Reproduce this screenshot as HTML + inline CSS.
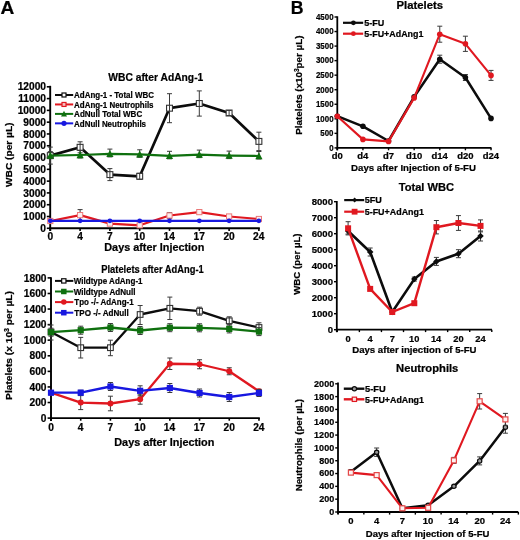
<!DOCTYPE html>
<html><head><meta charset="utf-8"><style>
html,body{margin:0;padding:0;background:#fff;}
svg{display:block;will-change:transform;filter:blur(0.4px);}
text{font-family:"Liberation Sans",sans-serif;font-weight:bold;stroke:#000;stroke-width:0.22px;paint-order:stroke;}
</style></head><body>
<svg width="520" height="540" viewBox="0 0 520 540">
<rect width="520" height="540" fill="#fff"/>
<text x="0.52" y="13.60" font-size="18.3" fill="#000" textLength="13.80" lengthAdjust="spacingAndGlyphs">A</text>
<text x="290.80" y="13.60" font-size="18.0" fill="#000" textLength="12.79" lengthAdjust="spacingAndGlyphs">B</text>
<line x1="50.20" y1="85.80" x2="50.20" y2="231.00" stroke="#000" stroke-width="1.9"/>
<line x1="49.30" y1="228.30" x2="259.80" y2="228.30" stroke="#000" stroke-width="1.9"/>
<line x1="46.80" y1="228.30" x2="50.20" y2="228.30" stroke="#000" stroke-width="1.6"/>
<text x="40.35" y="231.90" font-size="10.0" fill="#000" textLength="5.67" lengthAdjust="spacingAndGlyphs">0</text>
<line x1="46.80" y1="216.51" x2="50.20" y2="216.51" stroke="#000" stroke-width="1.6"/>
<text x="23.34" y="220.11" font-size="10.0" fill="#000" textLength="22.69" lengthAdjust="spacingAndGlyphs">1000</text>
<line x1="46.80" y1="204.72" x2="50.20" y2="204.72" stroke="#000" stroke-width="1.6"/>
<text x="23.34" y="208.32" font-size="10.0" fill="#000" textLength="22.69" lengthAdjust="spacingAndGlyphs">2000</text>
<line x1="46.80" y1="192.92" x2="50.20" y2="192.92" stroke="#000" stroke-width="1.6"/>
<text x="23.34" y="196.52" font-size="10.0" fill="#000" textLength="22.69" lengthAdjust="spacingAndGlyphs">3000</text>
<line x1="46.80" y1="181.13" x2="50.20" y2="181.13" stroke="#000" stroke-width="1.6"/>
<text x="23.34" y="184.73" font-size="10.0" fill="#000" textLength="22.69" lengthAdjust="spacingAndGlyphs">4000</text>
<line x1="46.80" y1="169.34" x2="50.20" y2="169.34" stroke="#000" stroke-width="1.6"/>
<text x="23.34" y="172.94" font-size="10.0" fill="#000" textLength="22.69" lengthAdjust="spacingAndGlyphs">5000</text>
<line x1="46.80" y1="157.55" x2="50.20" y2="157.55" stroke="#000" stroke-width="1.6"/>
<text x="23.34" y="161.15" font-size="10.0" fill="#000" textLength="22.69" lengthAdjust="spacingAndGlyphs">6000</text>
<line x1="46.80" y1="145.76" x2="50.20" y2="145.76" stroke="#000" stroke-width="1.6"/>
<text x="23.34" y="149.36" font-size="10.0" fill="#000" textLength="22.69" lengthAdjust="spacingAndGlyphs">7000</text>
<line x1="46.80" y1="133.96" x2="50.20" y2="133.96" stroke="#000" stroke-width="1.6"/>
<text x="23.34" y="137.56" font-size="10.0" fill="#000" textLength="22.69" lengthAdjust="spacingAndGlyphs">8000</text>
<line x1="46.80" y1="122.17" x2="50.20" y2="122.17" stroke="#000" stroke-width="1.6"/>
<text x="23.34" y="125.77" font-size="10.0" fill="#000" textLength="22.69" lengthAdjust="spacingAndGlyphs">9000</text>
<line x1="46.80" y1="110.38" x2="50.20" y2="110.38" stroke="#000" stroke-width="1.6"/>
<text x="17.65" y="113.98" font-size="10.0" fill="#000" textLength="28.36" lengthAdjust="spacingAndGlyphs">10000</text>
<line x1="46.80" y1="98.59" x2="50.20" y2="98.59" stroke="#000" stroke-width="1.6"/>
<text x="18.21" y="102.19" font-size="10.0" fill="#000" textLength="27.80" lengthAdjust="spacingAndGlyphs">11000</text>
<line x1="46.80" y1="86.80" x2="50.20" y2="86.80" stroke="#000" stroke-width="1.6"/>
<text x="17.65" y="90.40" font-size="10.0" fill="#000" textLength="28.36" lengthAdjust="spacingAndGlyphs">12000</text>
<line x1="50.30" y1="228.30" x2="50.30" y2="230.90" stroke="#000" stroke-width="1.6"/>
<text x="47.47" y="240.10" font-size="10.2" fill="#000" textLength="5.67" lengthAdjust="spacingAndGlyphs">0</text>
<line x1="80.10" y1="228.30" x2="80.10" y2="230.90" stroke="#000" stroke-width="1.6"/>
<text x="77.22" y="240.10" font-size="10.2" fill="#000" textLength="5.67" lengthAdjust="spacingAndGlyphs">4</text>
<line x1="109.90" y1="228.30" x2="109.90" y2="230.90" stroke="#000" stroke-width="1.6"/>
<text x="107.07" y="240.10" font-size="10.2" fill="#000" textLength="5.67" lengthAdjust="spacingAndGlyphs">7</text>
<line x1="139.70" y1="228.30" x2="139.70" y2="230.90" stroke="#000" stroke-width="1.6"/>
<text x="133.92" y="240.10" font-size="10.2" fill="#000" textLength="11.35" lengthAdjust="spacingAndGlyphs">10</text>
<line x1="169.50" y1="228.30" x2="169.50" y2="230.90" stroke="#000" stroke-width="1.6"/>
<text x="163.55" y="240.10" font-size="10.2" fill="#000" textLength="11.35" lengthAdjust="spacingAndGlyphs">14</text>
<line x1="199.30" y1="228.30" x2="199.30" y2="230.90" stroke="#000" stroke-width="1.6"/>
<text x="193.54" y="240.10" font-size="10.2" fill="#000" textLength="11.35" lengthAdjust="spacingAndGlyphs">17</text>
<line x1="229.10" y1="228.30" x2="229.10" y2="230.90" stroke="#000" stroke-width="1.6"/>
<text x="223.46" y="240.10" font-size="10.2" fill="#000" textLength="11.35" lengthAdjust="spacingAndGlyphs">20</text>
<line x1="258.90" y1="228.30" x2="258.90" y2="230.90" stroke="#000" stroke-width="1.6"/>
<text x="253.09" y="240.10" font-size="10.2" fill="#000" textLength="11.35" lengthAdjust="spacingAndGlyphs">24</text>
<text x="104.27" y="251.00" font-size="10.3" fill="#000" textLength="100.09" lengthAdjust="spacingAndGlyphs">Days after Injection</text>
<g transform="translate(12.20,0) rotate(-90)">
<text x="-187.00" y="0.00" font-size="9.8" fill="#000" textLength="64.51" lengthAdjust="spacingAndGlyphs">WBC (per µL)</text>
</g>
<text x="108.30" y="80.70" font-size="11.2" fill="#000" textLength="94.99" lengthAdjust="spacingAndGlyphs">WBC after AdAng-1</text>
<line x1="55.00" y1="95.00" x2="73.20" y2="95.00" stroke="#0c0c0c" stroke-width="2"/>
<rect x="62.00" y="93.00" width="4.00" height="4.00" fill="#fff" stroke="#0c0c0c" stroke-width="1.2"/>
<text x="74.10" y="98.20" font-size="9.0" fill="#000" textLength="79.82" lengthAdjust="spacingAndGlyphs">AdAng-1 - Total WBC</text>
<line x1="55.00" y1="104.45" x2="73.20" y2="104.45" stroke="#e01820" stroke-width="2"/>
<rect x="62.00" y="102.45" width="4.00" height="4.00" fill="#f4c0c0" stroke="#e01820" stroke-width="1.2"/>
<text x="74.10" y="107.65" font-size="9.0" fill="#000" textLength="79.43" lengthAdjust="spacingAndGlyphs">AdAng-1 Neutrophils</text>
<line x1="55.00" y1="113.90" x2="73.20" y2="113.90" stroke="#0f700f" stroke-width="2"/>
<polygon points="64.00,110.70 67.00,116.50 61.00,116.50" fill="#0f700f"/>
<text x="74.10" y="117.10" font-size="9.0" fill="#000" textLength="68.12" lengthAdjust="spacingAndGlyphs">AdNull Total WBC</text>
<line x1="55.00" y1="123.35" x2="73.20" y2="123.35" stroke="#1818e0" stroke-width="2"/>
<circle cx="64.00" cy="123.35" r="2.60" fill="#1818e0"/>
<text x="74.10" y="126.55" font-size="9.0" fill="#000" textLength="71.92" lengthAdjust="spacingAndGlyphs">AdNull Neutrophils</text>
<polyline points="50.30,155.60 80.10,147.30 109.90,174.60 139.70,176.30 169.50,108.20 199.30,103.50 229.10,113.00 258.90,141.40" fill="none" stroke="#0c0c0c" stroke-width="2.7" stroke-linejoin="round"/>
<rect x="47.35" y="152.65" width="5.90" height="5.90" fill="#fff" stroke="#333" stroke-width="1.1"/>
<rect x="77.15" y="144.35" width="5.90" height="5.90" fill="#fff" stroke="#333" stroke-width="1.1"/>
<rect x="106.95" y="171.65" width="5.90" height="5.90" fill="#fff" stroke="#333" stroke-width="1.1"/>
<rect x="136.75" y="173.35" width="5.90" height="5.90" fill="#fff" stroke="#333" stroke-width="1.1"/>
<rect x="166.55" y="105.25" width="5.90" height="5.90" fill="#fff" stroke="#333" stroke-width="1.1"/>
<rect x="196.35" y="100.55" width="5.90" height="5.90" fill="#fff" stroke="#333" stroke-width="1.1"/>
<rect x="226.15" y="110.05" width="5.90" height="5.90" fill="#fff" stroke="#333" stroke-width="1.1"/>
<rect x="255.95" y="138.45" width="5.90" height="5.90" fill="#fff" stroke="#333" stroke-width="1.1"/>
<path d="M50.30 147.10V164.10M47.80 147.10H52.80M47.80 164.10H52.80" stroke="#3a3a3a" stroke-width="1" fill="none"/>
<path d="M80.10 141.80V152.80M77.60 141.80H82.60M77.60 152.80H82.60" stroke="#3a3a3a" stroke-width="1" fill="none"/>
<path d="M109.90 168.60V180.60M107.40 168.60H112.40M107.40 180.60H112.40" stroke="#3a3a3a" stroke-width="1" fill="none"/>
<path d="M139.70 173.30V179.30M137.20 173.30H142.20M137.20 179.30H142.20" stroke="#3a3a3a" stroke-width="1" fill="none"/>
<path d="M169.50 93.70V122.70M167.00 93.70H172.00M167.00 122.70H172.00" stroke="#3a3a3a" stroke-width="1" fill="none"/>
<path d="M199.30 90.90V116.10M196.80 90.90H201.80M196.80 116.10H201.80" stroke="#3a3a3a" stroke-width="1" fill="none"/>
<path d="M229.10 110.50V115.50M226.60 110.50H231.60M226.60 115.50H231.60" stroke="#3a3a3a" stroke-width="1" fill="none"/>
<path d="M258.90 132.20V150.60M256.40 132.20H261.40M256.40 150.60H261.40" stroke="#3a3a3a" stroke-width="1" fill="none"/>
<path d="M80.10 209.60V220.60M77.60 209.60H82.60M77.60 220.60H82.60" stroke="#3a3a3a" stroke-width="1" fill="none"/>
<path d="M169.50 212.70V218.30M167.00 212.70H172.00M167.00 218.30H172.00" stroke="#3a3a3a" stroke-width="1" fill="none"/>
<polyline points="50.30,221.00 80.10,215.10 109.90,223.60 139.70,225.30 169.50,215.50 199.30,212.10 229.10,216.50 258.90,219.00" fill="none" stroke="#e01820" stroke-width="2.2" stroke-linejoin="round"/>
<rect x="47.70" y="218.40" width="5.20" height="5.20" fill="#fdeeee" stroke="#ea7878" stroke-width="1.0"/>
<rect x="77.50" y="212.50" width="5.20" height="5.20" fill="#fdeeee" stroke="#ea7878" stroke-width="1.0"/>
<rect x="107.30" y="221.00" width="5.20" height="5.20" fill="#fdeeee" stroke="#ea7878" stroke-width="1.0"/>
<rect x="137.10" y="222.70" width="5.20" height="5.20" fill="#fdeeee" stroke="#ea7878" stroke-width="1.0"/>
<rect x="166.90" y="212.90" width="5.20" height="5.20" fill="#fdeeee" stroke="#ea7878" stroke-width="1.0"/>
<rect x="196.70" y="209.50" width="5.20" height="5.20" fill="#fdeeee" stroke="#ea7878" stroke-width="1.0"/>
<rect x="226.50" y="213.90" width="5.20" height="5.20" fill="#fdeeee" stroke="#ea7878" stroke-width="1.0"/>
<rect x="256.30" y="216.40" width="5.20" height="5.20" fill="#fdeeee" stroke="#ea7878" stroke-width="1.0"/>
<path d="M50.30 151.60V158.60M47.80 151.60H52.80M47.80 158.60H52.80" stroke="#3a3a3a" stroke-width="1" fill="none"/>
<path d="M80.10 150.50V158.00M77.60 150.50H82.60M77.60 158.00H82.60" stroke="#3a3a3a" stroke-width="1" fill="none"/>
<path d="M109.90 149.10V156.90M107.40 149.10H112.40M107.40 156.90H112.40" stroke="#3a3a3a" stroke-width="1" fill="none"/>
<path d="M139.70 149.80V157.30M137.20 149.80H142.20M137.20 157.30H142.20" stroke="#3a3a3a" stroke-width="1" fill="none"/>
<path d="M169.50 151.30V158.80M167.00 151.30H172.00M167.00 158.80H172.00" stroke="#3a3a3a" stroke-width="1" fill="none"/>
<path d="M199.30 150.10V157.60M196.80 150.10H201.80M196.80 157.60H201.80" stroke="#3a3a3a" stroke-width="1" fill="none"/>
<path d="M229.10 151.10V158.60M226.60 151.10H231.60M226.60 158.60H231.60" stroke="#3a3a3a" stroke-width="1" fill="none"/>
<path d="M258.90 151.50V159.00M256.40 151.50H261.40M256.40 159.00H261.40" stroke="#3a3a3a" stroke-width="1" fill="none"/>
<polyline points="50.30,155.60 80.10,155.00 109.90,153.90 139.70,154.30 169.50,155.80 199.30,154.60 229.10,155.60 258.90,156.00" fill="none" stroke="#0f700f" stroke-width="2.2" stroke-linejoin="round"/>
<polygon points="50.30,151.80 53.90,158.80 46.70,158.80" fill="#0f700f"/>
<polygon points="80.10,151.20 83.70,158.20 76.50,158.20" fill="#0f700f"/>
<polygon points="109.90,150.10 113.50,157.10 106.30,157.10" fill="#0f700f"/>
<polygon points="139.70,150.50 143.30,157.50 136.10,157.50" fill="#0f700f"/>
<polygon points="169.50,152.00 173.10,159.00 165.90,159.00" fill="#0f700f"/>
<polygon points="199.30,150.80 202.90,157.80 195.70,157.80" fill="#0f700f"/>
<polygon points="229.10,151.80 232.70,158.80 225.50,158.80" fill="#0f700f"/>
<polygon points="258.90,152.20 262.50,159.20 255.30,159.20" fill="#0f700f"/>
<polyline points="50.30,220.80 80.10,220.80 109.90,220.80 139.70,220.80 169.50,220.80 199.30,220.80 229.10,220.80 258.90,220.80" fill="none" stroke="#1818e0" stroke-width="2.2" stroke-linejoin="round"/>
<circle cx="50.30" cy="220.80" r="2.40" fill="#1818e0"/>
<circle cx="80.10" cy="220.80" r="2.40" fill="#1818e0"/>
<circle cx="109.90" cy="220.80" r="2.40" fill="#1818e0"/>
<circle cx="139.70" cy="220.80" r="2.40" fill="#1818e0"/>
<circle cx="169.50" cy="220.80" r="2.40" fill="#1818e0"/>
<circle cx="199.30" cy="220.80" r="2.40" fill="#1818e0"/>
<circle cx="229.10" cy="220.80" r="2.40" fill="#1818e0"/>
<circle cx="258.90" cy="220.80" r="2.40" fill="#1818e0"/>
<line x1="51.00" y1="277.20" x2="51.00" y2="421.00" stroke="#000" stroke-width="1.9"/>
<line x1="50.10" y1="418.10" x2="259.80" y2="418.10" stroke="#000" stroke-width="1.9"/>
<line x1="47.60" y1="418.10" x2="51.00" y2="418.10" stroke="#000" stroke-width="1.6"/>
<text x="40.85" y="421.70" font-size="10.0" fill="#000" textLength="5.67" lengthAdjust="spacingAndGlyphs">0</text>
<line x1="47.60" y1="402.52" x2="51.00" y2="402.52" stroke="#000" stroke-width="1.6"/>
<text x="29.50" y="406.12" font-size="10.0" fill="#000" textLength="17.02" lengthAdjust="spacingAndGlyphs">200</text>
<line x1="47.60" y1="386.94" x2="51.00" y2="386.94" stroke="#000" stroke-width="1.6"/>
<text x="29.50" y="390.54" font-size="10.0" fill="#000" textLength="17.02" lengthAdjust="spacingAndGlyphs">400</text>
<line x1="47.60" y1="371.37" x2="51.00" y2="371.37" stroke="#000" stroke-width="1.6"/>
<text x="29.50" y="374.97" font-size="10.0" fill="#000" textLength="17.02" lengthAdjust="spacingAndGlyphs">600</text>
<line x1="47.60" y1="355.79" x2="51.00" y2="355.79" stroke="#000" stroke-width="1.6"/>
<text x="29.50" y="359.39" font-size="10.0" fill="#000" textLength="17.02" lengthAdjust="spacingAndGlyphs">800</text>
<line x1="47.60" y1="340.21" x2="51.00" y2="340.21" stroke="#000" stroke-width="1.6"/>
<text x="23.84" y="343.81" font-size="10.0" fill="#000" textLength="22.69" lengthAdjust="spacingAndGlyphs">1000</text>
<line x1="47.60" y1="324.63" x2="51.00" y2="324.63" stroke="#000" stroke-width="1.6"/>
<text x="23.84" y="328.23" font-size="10.0" fill="#000" textLength="22.69" lengthAdjust="spacingAndGlyphs">1200</text>
<line x1="47.60" y1="309.05" x2="51.00" y2="309.05" stroke="#000" stroke-width="1.6"/>
<text x="23.84" y="312.65" font-size="10.0" fill="#000" textLength="22.69" lengthAdjust="spacingAndGlyphs">1400</text>
<line x1="47.60" y1="293.48" x2="51.00" y2="293.48" stroke="#000" stroke-width="1.6"/>
<text x="23.84" y="297.08" font-size="10.0" fill="#000" textLength="22.69" lengthAdjust="spacingAndGlyphs">1600</text>
<line x1="47.60" y1="277.90" x2="51.00" y2="277.90" stroke="#000" stroke-width="1.6"/>
<text x="23.84" y="281.50" font-size="10.0" fill="#000" textLength="22.69" lengthAdjust="spacingAndGlyphs">1800</text>
<line x1="51.00" y1="418.10" x2="51.00" y2="420.70" stroke="#000" stroke-width="1.6"/>
<text x="48.17" y="431.40" font-size="10.2" fill="#000" textLength="5.67" lengthAdjust="spacingAndGlyphs">0</text>
<line x1="80.71" y1="418.10" x2="80.71" y2="420.70" stroke="#000" stroke-width="1.6"/>
<text x="77.83" y="431.40" font-size="10.2" fill="#000" textLength="5.67" lengthAdjust="spacingAndGlyphs">4</text>
<line x1="110.42" y1="418.10" x2="110.42" y2="420.70" stroke="#000" stroke-width="1.6"/>
<text x="107.59" y="431.40" font-size="10.2" fill="#000" textLength="5.67" lengthAdjust="spacingAndGlyphs">7</text>
<line x1="140.13" y1="418.10" x2="140.13" y2="420.70" stroke="#000" stroke-width="1.6"/>
<text x="134.35" y="431.40" font-size="10.2" fill="#000" textLength="11.35" lengthAdjust="spacingAndGlyphs">10</text>
<line x1="169.84" y1="418.10" x2="169.84" y2="420.70" stroke="#000" stroke-width="1.6"/>
<text x="163.89" y="431.40" font-size="10.2" fill="#000" textLength="11.35" lengthAdjust="spacingAndGlyphs">14</text>
<line x1="199.55" y1="418.10" x2="199.55" y2="420.70" stroke="#000" stroke-width="1.6"/>
<text x="193.79" y="431.40" font-size="10.2" fill="#000" textLength="11.35" lengthAdjust="spacingAndGlyphs">17</text>
<line x1="229.26" y1="418.10" x2="229.26" y2="420.70" stroke="#000" stroke-width="1.6"/>
<text x="223.62" y="431.40" font-size="10.2" fill="#000" textLength="11.35" lengthAdjust="spacingAndGlyphs">20</text>
<line x1="258.97" y1="418.10" x2="258.97" y2="420.70" stroke="#000" stroke-width="1.6"/>
<text x="253.16" y="431.40" font-size="10.2" fill="#000" textLength="11.35" lengthAdjust="spacingAndGlyphs">24</text>
<text x="114.27" y="446.40" font-size="10.3" fill="#000" textLength="100.09" lengthAdjust="spacingAndGlyphs">Days after Injection</text>
<g transform="translate(11.90,399.20) rotate(-90) scale(1.0616,1)">
<text x="-0.65" y="0" font-size="9.6">Platelets (x 10<tspan font-size="6.6" dy="-3.4">3</tspan><tspan dy="3.4"> per µL)</tspan></text>
</g>
<text x="101.27" y="273.00" font-size="11.6" fill="#000" textLength="102.49" lengthAdjust="spacingAndGlyphs">Platelets after AdAng-1</text>
<line x1="55.00" y1="280.90" x2="73.30" y2="280.90" stroke="#0c0c0c" stroke-width="2"/>
<rect x="61.65" y="278.75" width="4.30" height="4.30" fill="#fff" stroke="#0c0c0c" stroke-width="1.2"/>
<text x="73.80" y="284.10" font-size="9.0" fill="#000" textLength="68.74" lengthAdjust="spacingAndGlyphs">Wildtype AdAng-1</text>
<line x1="55.00" y1="291.50" x2="73.30" y2="291.50" stroke="#0f700f" stroke-width="2"/>
<rect x="61.05" y="288.75" width="5.5" height="5.5" fill="#0f700f"/>
<text x="73.80" y="294.70" font-size="9.0" fill="#000" textLength="61.67" lengthAdjust="spacingAndGlyphs">Wildtype AdNull</text>
<line x1="55.00" y1="302.10" x2="73.30" y2="302.10" stroke="#e01820" stroke-width="2"/>
<circle cx="63.80" cy="302.10" r="2.75" fill="#e01820"/>
<text x="74.32" y="305.30" font-size="9.0" fill="#000" textLength="59.31" lengthAdjust="spacingAndGlyphs">Tpo -/- AdAng-1</text>
<line x1="55.00" y1="312.70" x2="73.30" y2="312.70" stroke="#1818e0" stroke-width="2"/>
<rect x="61.05" y="309.95" width="5.5" height="5.5" fill="#1818e0"/>
<text x="74.32" y="315.90" font-size="9.0" fill="#000" textLength="54.45" lengthAdjust="spacingAndGlyphs">TPO -/- AdNull</text>
<polyline points="51.00,332.00 80.71,347.70 110.42,347.70 140.13,314.50 169.84,308.30 199.55,311.20 229.26,320.80 258.97,327.50" fill="none" stroke="#0c0c0c" stroke-width="2.3" stroke-linejoin="round"/>
<rect x="48.15" y="329.15" width="5.70" height="5.70" fill="#fff" stroke="#333" stroke-width="1.1"/>
<rect x="77.86" y="344.85" width="5.70" height="5.70" fill="#fff" stroke="#333" stroke-width="1.1"/>
<rect x="107.57" y="344.85" width="5.70" height="5.70" fill="#fff" stroke="#333" stroke-width="1.1"/>
<rect x="137.28" y="311.65" width="5.70" height="5.70" fill="#fff" stroke="#333" stroke-width="1.1"/>
<rect x="166.99" y="305.45" width="5.70" height="5.70" fill="#fff" stroke="#333" stroke-width="1.1"/>
<rect x="196.70" y="308.35" width="5.70" height="5.70" fill="#fff" stroke="#333" stroke-width="1.1"/>
<rect x="226.41" y="317.95" width="5.70" height="5.70" fill="#fff" stroke="#333" stroke-width="1.1"/>
<rect x="256.12" y="324.65" width="5.70" height="5.70" fill="#fff" stroke="#333" stroke-width="1.1"/>
<path d="M51.00 325.00V340.00M48.50 325.00H53.50M48.50 340.00H53.50" stroke="#3a3a3a" stroke-width="1" fill="none"/>
<path d="M80.71 337.40V358.00M78.21 337.40H83.21M78.21 358.00H83.21" stroke="#3a3a3a" stroke-width="1" fill="none"/>
<path d="M110.42 340.20V355.70M107.92 340.20H112.92M107.92 355.70H112.92" stroke="#3a3a3a" stroke-width="1" fill="none"/>
<path d="M140.13 305.50V324.50M137.63 305.50H142.63M137.63 324.50H142.63" stroke="#3a3a3a" stroke-width="1" fill="none"/>
<path d="M169.84 297.10V319.50M167.34 297.10H172.34M167.34 319.50H172.34" stroke="#3a3a3a" stroke-width="1" fill="none"/>
<path d="M199.55 307.20V315.20M197.05 307.20H202.05M197.05 315.20H202.05" stroke="#3a3a3a" stroke-width="1" fill="none"/>
<path d="M229.26 316.80V324.80M226.76 316.80H231.76M226.76 324.80H231.76" stroke="#3a3a3a" stroke-width="1" fill="none"/>
<path d="M258.97 322.80V332.20M256.47 322.80H261.47M256.47 332.20H261.47" stroke="#3a3a3a" stroke-width="1" fill="none"/>
<path d="M51.00 328.20V336.20M48.50 328.20H53.50M48.50 336.20H53.50" stroke="#3a3a3a" stroke-width="1" fill="none"/>
<path d="M80.71 326.20V334.20M78.21 326.20H83.21M78.21 334.20H83.21" stroke="#3a3a3a" stroke-width="1" fill="none"/>
<path d="M110.42 323.50V331.50M107.92 323.50H112.92M107.92 331.50H112.92" stroke="#3a3a3a" stroke-width="1" fill="none"/>
<path d="M140.13 326.50V334.50M137.63 326.50H142.63M137.63 334.50H142.63" stroke="#3a3a3a" stroke-width="1" fill="none"/>
<path d="M169.84 323.70V331.70M167.34 323.70H172.34M167.34 331.70H172.34" stroke="#3a3a3a" stroke-width="1" fill="none"/>
<path d="M199.55 323.80V331.80M197.05 323.80H202.05M197.05 331.80H202.05" stroke="#3a3a3a" stroke-width="1" fill="none"/>
<path d="M229.26 324.90V332.90M226.76 324.90H231.76M226.76 332.90H231.76" stroke="#3a3a3a" stroke-width="1" fill="none"/>
<path d="M258.97 327.60V335.60M256.47 327.60H261.47M256.47 335.60H261.47" stroke="#3a3a3a" stroke-width="1" fill="none"/>
<polyline points="51.00,332.20 80.71,330.20 110.42,327.50 140.13,330.50 169.84,327.70 199.55,327.80 229.26,328.90 258.97,331.60" fill="none" stroke="#0f700f" stroke-width="2.3" stroke-linejoin="round"/>
<rect x="47.90" y="329.10" width="6.2" height="6.2" fill="#0f700f"/>
<rect x="77.61" y="327.10" width="6.2" height="6.2" fill="#0f700f"/>
<rect x="107.32" y="324.40" width="6.2" height="6.2" fill="#0f700f"/>
<rect x="137.03" y="327.40" width="6.2" height="6.2" fill="#0f700f"/>
<rect x="166.74" y="324.60" width="6.2" height="6.2" fill="#0f700f"/>
<rect x="196.45" y="324.70" width="6.2" height="6.2" fill="#0f700f"/>
<rect x="226.16" y="325.80" width="6.2" height="6.2" fill="#0f700f"/>
<rect x="255.87" y="328.50" width="6.2" height="6.2" fill="#0f700f"/>
<path d="M80.71 395.60V409.60M78.21 395.60H83.21M78.21 409.60H83.21" stroke="#3a3a3a" stroke-width="1" fill="none"/>
<path d="M110.42 396.20V410.80M107.92 396.20H112.92M107.92 410.80H112.92" stroke="#3a3a3a" stroke-width="1" fill="none"/>
<path d="M140.13 394.20V404.20M137.63 394.20H142.63M137.63 404.20H142.63" stroke="#3a3a3a" stroke-width="1" fill="none"/>
<path d="M169.84 358.00V369.50M167.34 358.00H172.34M167.34 369.50H172.34" stroke="#3a3a3a" stroke-width="1" fill="none"/>
<path d="M199.55 359.75V368.75M197.05 359.75H202.05M197.05 368.75H202.05" stroke="#3a3a3a" stroke-width="1" fill="none"/>
<path d="M229.26 367.75V374.75M226.76 367.75H231.76M226.76 374.75H231.76" stroke="#3a3a3a" stroke-width="1" fill="none"/>
<path d="M258.97 389.25V393.25M256.47 389.25H261.47M256.47 393.25H261.47" stroke="#3a3a3a" stroke-width="1" fill="none"/>
<polyline points="51.00,392.70 80.71,402.60 110.42,403.50 140.13,399.20 169.84,363.75 199.55,364.25 229.26,371.25 258.97,391.25" fill="none" stroke="#e01820" stroke-width="2.3" stroke-linejoin="round"/>
<circle cx="51.00" cy="392.70" r="3.00" fill="#e01820"/>
<circle cx="80.71" cy="402.60" r="3.00" fill="#e01820"/>
<circle cx="110.42" cy="403.50" r="3.00" fill="#e01820"/>
<circle cx="140.13" cy="399.20" r="3.00" fill="#e01820"/>
<circle cx="169.84" cy="363.75" r="3.00" fill="#e01820"/>
<circle cx="199.55" cy="364.25" r="3.00" fill="#e01820"/>
<circle cx="229.26" cy="371.25" r="3.00" fill="#e01820"/>
<circle cx="258.97" cy="391.25" r="3.00" fill="#e01820"/>
<path d="M51.00 390.70V394.70M48.50 390.70H53.50M48.50 394.70H53.50" stroke="#3a3a3a" stroke-width="1" fill="none"/>
<path d="M80.71 390.20V395.20M78.21 390.20H83.21M78.21 395.20H83.21" stroke="#3a3a3a" stroke-width="1" fill="none"/>
<path d="M110.42 382.50V390.50M107.92 382.50H112.92M107.92 390.50H112.92" stroke="#3a3a3a" stroke-width="1" fill="none"/>
<path d="M140.13 385.80V395.80M137.63 385.80H142.63M137.63 395.80H142.63" stroke="#3a3a3a" stroke-width="1" fill="none"/>
<path d="M169.84 383.50V392.50M167.34 383.50H172.34M167.34 392.50H172.34" stroke="#3a3a3a" stroke-width="1" fill="none"/>
<path d="M199.55 389.00V397.00M197.05 389.00H202.05M197.05 397.00H202.05" stroke="#3a3a3a" stroke-width="1" fill="none"/>
<path d="M229.26 392.50V401.50M226.76 392.50H231.76M226.76 401.50H231.76" stroke="#3a3a3a" stroke-width="1" fill="none"/>
<path d="M258.97 389.50V396.50M256.47 389.50H261.47M256.47 396.50H261.47" stroke="#3a3a3a" stroke-width="1" fill="none"/>
<polyline points="51.00,392.70 80.71,392.70 110.42,386.50 140.13,390.80 169.84,388.00 199.55,393.00 229.26,397.00 258.97,393.00" fill="none" stroke="#1818e0" stroke-width="2.3" stroke-linejoin="round"/>
<rect x="47.90" y="389.60" width="6.2" height="6.2" fill="#1818e0"/>
<rect x="77.61" y="389.60" width="6.2" height="6.2" fill="#1818e0"/>
<rect x="107.32" y="383.40" width="6.2" height="6.2" fill="#1818e0"/>
<rect x="137.03" y="387.70" width="6.2" height="6.2" fill="#1818e0"/>
<rect x="166.74" y="384.90" width="6.2" height="6.2" fill="#1818e0"/>
<rect x="196.45" y="389.90" width="6.2" height="6.2" fill="#1818e0"/>
<rect x="226.16" y="393.90" width="6.2" height="6.2" fill="#1818e0"/>
<rect x="255.87" y="389.90" width="6.2" height="6.2" fill="#1818e0"/>
<line x1="337.30" y1="16.30" x2="337.30" y2="150.30" stroke="#000" stroke-width="1.8"/>
<line x1="336.40" y1="147.90" x2="491.50" y2="147.90" stroke="#000" stroke-width="1.8"/>
<line x1="334.50" y1="147.90" x2="337.30" y2="147.90" stroke="#000" stroke-width="1.4"/>
<text x="329.13" y="150.70" font-size="9.4" fill="#000" textLength="4.39" lengthAdjust="spacingAndGlyphs">0</text>
<line x1="334.50" y1="133.36" x2="337.30" y2="133.36" stroke="#000" stroke-width="1.4"/>
<text x="320.35" y="136.16" font-size="9.4" fill="#000" textLength="13.17" lengthAdjust="spacingAndGlyphs">500</text>
<line x1="334.50" y1="118.81" x2="337.30" y2="118.81" stroke="#000" stroke-width="1.4"/>
<text x="315.97" y="121.61" font-size="9.4" fill="#000" textLength="17.57" lengthAdjust="spacingAndGlyphs">1000</text>
<line x1="334.50" y1="104.27" x2="337.30" y2="104.27" stroke="#000" stroke-width="1.4"/>
<text x="315.97" y="107.06" font-size="9.4" fill="#000" textLength="17.57" lengthAdjust="spacingAndGlyphs">1500</text>
<line x1="334.50" y1="89.72" x2="337.30" y2="89.72" stroke="#000" stroke-width="1.4"/>
<text x="315.97" y="92.52" font-size="9.4" fill="#000" textLength="17.57" lengthAdjust="spacingAndGlyphs">2000</text>
<line x1="334.50" y1="75.17" x2="337.30" y2="75.17" stroke="#000" stroke-width="1.4"/>
<text x="315.97" y="77.97" font-size="9.4" fill="#000" textLength="17.57" lengthAdjust="spacingAndGlyphs">2500</text>
<line x1="334.50" y1="60.63" x2="337.30" y2="60.63" stroke="#000" stroke-width="1.4"/>
<text x="315.97" y="63.43" font-size="9.4" fill="#000" textLength="17.57" lengthAdjust="spacingAndGlyphs">3000</text>
<line x1="334.50" y1="46.09" x2="337.30" y2="46.09" stroke="#000" stroke-width="1.4"/>
<text x="315.97" y="48.89" font-size="9.4" fill="#000" textLength="17.57" lengthAdjust="spacingAndGlyphs">3500</text>
<line x1="334.50" y1="31.54" x2="337.30" y2="31.54" stroke="#000" stroke-width="1.4"/>
<text x="315.97" y="34.34" font-size="9.4" fill="#000" textLength="17.57" lengthAdjust="spacingAndGlyphs">4000</text>
<line x1="334.50" y1="17.00" x2="337.30" y2="17.00" stroke="#000" stroke-width="1.4"/>
<text x="315.97" y="19.80" font-size="9.4" fill="#000" textLength="17.57" lengthAdjust="spacingAndGlyphs">4500</text>
<line x1="337.30" y1="147.90" x2="337.30" y2="150.30" stroke="#000" stroke-width="1.4"/>
<text x="331.77" y="159.30" font-size="9.3" fill="#000" textLength="11.07" lengthAdjust="spacingAndGlyphs">d0</text>
<line x1="362.92" y1="147.90" x2="362.92" y2="150.30" stroke="#000" stroke-width="1.4"/>
<text x="357.23" y="159.30" font-size="9.3" fill="#000" textLength="11.07" lengthAdjust="spacingAndGlyphs">d4</text>
<line x1="388.54" y1="147.90" x2="388.54" y2="150.30" stroke="#000" stroke-width="1.4"/>
<text x="383.03" y="159.30" font-size="9.3" fill="#000" textLength="11.07" lengthAdjust="spacingAndGlyphs">d7</text>
<line x1="414.16" y1="147.90" x2="414.16" y2="150.30" stroke="#000" stroke-width="1.4"/>
<text x="405.99" y="159.30" font-size="9.3" fill="#000" textLength="16.35" lengthAdjust="spacingAndGlyphs">d10</text>
<line x1="439.78" y1="147.90" x2="439.78" y2="150.30" stroke="#000" stroke-width="1.4"/>
<text x="431.44" y="159.30" font-size="9.3" fill="#000" textLength="16.35" lengthAdjust="spacingAndGlyphs">d14</text>
<line x1="465.40" y1="147.90" x2="465.40" y2="150.30" stroke="#000" stroke-width="1.4"/>
<text x="457.23" y="159.30" font-size="9.3" fill="#000" textLength="16.35" lengthAdjust="spacingAndGlyphs">d20</text>
<line x1="491.02" y1="147.90" x2="491.02" y2="150.30" stroke="#000" stroke-width="1.4"/>
<text x="482.68" y="159.30" font-size="9.3" fill="#000" textLength="16.35" lengthAdjust="spacingAndGlyphs">d24</text>
<text x="351.05" y="171.10" font-size="9.9" fill="#000" textLength="124.93" lengthAdjust="spacingAndGlyphs">Days after Injection of 5-FU</text>
<g transform="translate(302.00,134.10) rotate(-90) scale(1.0231,1)">
<text x="-0.65" y="0" font-size="9.6">Platelets (x10<tspan font-size="6.4" dy="-3.2">3</tspan><tspan dy="3.2">per µL)</tspan></text>
</g>
<text x="396.54" y="9.20" font-size="10.4" fill="#000" textLength="46.42" lengthAdjust="spacingAndGlyphs">Platelets</text>
<line x1="343.00" y1="22.80" x2="363.20" y2="22.80" stroke="#0c0c0c" stroke-width="2.2"/>
<circle cx="353.40" cy="22.80" r="2.40" fill="#0c0c0c"/>
<text x="364.33" y="25.70" font-size="8.5" fill="#000" textLength="20.01" lengthAdjust="spacingAndGlyphs">5-FU</text>
<line x1="343.00" y1="33.70" x2="363.20" y2="33.70" stroke="#e01820" stroke-width="2.2"/>
<circle cx="353.40" cy="33.70" r="2.40" fill="#e01820"/>
<text x="364.33" y="36.60" font-size="8.5" fill="#000" textLength="59.03" lengthAdjust="spacingAndGlyphs">5-FU+AdAng1</text>
<path d="M439.78 55.20V63.20M437.28 55.20H442.28M437.28 63.20H442.28" stroke="#3a3a3a" stroke-width="1" fill="none"/>
<path d="M465.40 74.50V80.50M462.90 74.50H467.90M462.90 80.50H467.90" stroke="#3a3a3a" stroke-width="1" fill="none"/>
<polyline points="337.30,116.20 362.92,126.30 388.54,141.00 414.16,96.80 439.78,59.20 465.40,77.50 491.02,118.40" fill="none" stroke="#0c0c0c" stroke-width="2.5" stroke-linejoin="round"/>
<circle cx="337.30" cy="116.20" r="2.80" fill="#0c0c0c"/>
<circle cx="362.92" cy="126.30" r="2.80" fill="#0c0c0c"/>
<circle cx="388.54" cy="141.00" r="2.80" fill="#0c0c0c"/>
<circle cx="414.16" cy="96.80" r="2.80" fill="#0c0c0c"/>
<circle cx="439.78" cy="59.20" r="2.80" fill="#0c0c0c"/>
<circle cx="465.40" cy="77.50" r="2.80" fill="#0c0c0c"/>
<circle cx="491.02" cy="118.40" r="2.80" fill="#0c0c0c"/>
<path d="M439.78 26.20V42.20M437.28 26.20H442.28M437.28 42.20H442.28" stroke="#3a3a3a" stroke-width="1" fill="none"/>
<path d="M465.40 36.20V51.40M462.90 36.20H467.90M462.90 51.40H467.90" stroke="#3a3a3a" stroke-width="1" fill="none"/>
<path d="M491.02 70.40V80.40M488.52 70.40H493.52M488.52 80.40H493.52" stroke="#3a3a3a" stroke-width="1" fill="none"/>
<polyline points="337.30,116.20 362.92,139.40 388.54,141.40 414.16,97.90 439.78,34.20 465.40,43.80 491.02,75.40" fill="none" stroke="#e01820" stroke-width="2.1" stroke-linejoin="round"/>
<circle cx="337.30" cy="116.20" r="2.80" fill="#e01820"/>
<circle cx="362.92" cy="139.40" r="2.80" fill="#e01820"/>
<circle cx="388.54" cy="141.40" r="2.80" fill="#e01820"/>
<circle cx="414.16" cy="97.90" r="2.80" fill="#e01820"/>
<circle cx="439.78" cy="34.20" r="2.80" fill="#e01820"/>
<circle cx="465.40" cy="43.80" r="2.80" fill="#e01820"/>
<circle cx="491.02" cy="75.40" r="2.80" fill="#e01820"/>
<line x1="336.80" y1="201.00" x2="336.80" y2="332.20" stroke="#000" stroke-width="1.8"/>
<line x1="335.90" y1="329.70" x2="492.00" y2="329.70" stroke="#000" stroke-width="1.8"/>
<line x1="334.00" y1="329.70" x2="336.80" y2="329.70" stroke="#000" stroke-width="1.4"/>
<text x="327.67" y="333.00" font-size="9.2" fill="#000" textLength="5.32" lengthAdjust="spacingAndGlyphs">0</text>
<line x1="334.00" y1="313.70" x2="336.80" y2="313.70" stroke="#000" stroke-width="1.4"/>
<text x="311.72" y="317.00" font-size="9.2" fill="#000" textLength="21.29" lengthAdjust="spacingAndGlyphs">1000</text>
<line x1="334.00" y1="297.70" x2="336.80" y2="297.70" stroke="#000" stroke-width="1.4"/>
<text x="311.72" y="301.00" font-size="9.2" fill="#000" textLength="21.29" lengthAdjust="spacingAndGlyphs">2000</text>
<line x1="334.00" y1="281.70" x2="336.80" y2="281.70" stroke="#000" stroke-width="1.4"/>
<text x="311.72" y="285.00" font-size="9.2" fill="#000" textLength="21.29" lengthAdjust="spacingAndGlyphs">3000</text>
<line x1="334.00" y1="265.70" x2="336.80" y2="265.70" stroke="#000" stroke-width="1.4"/>
<text x="311.72" y="269.00" font-size="9.2" fill="#000" textLength="21.29" lengthAdjust="spacingAndGlyphs">4000</text>
<line x1="334.00" y1="249.70" x2="336.80" y2="249.70" stroke="#000" stroke-width="1.4"/>
<text x="311.72" y="253.00" font-size="9.2" fill="#000" textLength="21.29" lengthAdjust="spacingAndGlyphs">5000</text>
<line x1="334.00" y1="233.70" x2="336.80" y2="233.70" stroke="#000" stroke-width="1.4"/>
<text x="311.72" y="237.00" font-size="9.2" fill="#000" textLength="21.29" lengthAdjust="spacingAndGlyphs">6000</text>
<line x1="334.00" y1="217.70" x2="336.80" y2="217.70" stroke="#000" stroke-width="1.4"/>
<text x="311.72" y="221.00" font-size="9.2" fill="#000" textLength="21.29" lengthAdjust="spacingAndGlyphs">7000</text>
<line x1="334.00" y1="201.70" x2="336.80" y2="201.70" stroke="#000" stroke-width="1.4"/>
<text x="311.72" y="205.00" font-size="9.2" fill="#000" textLength="21.29" lengthAdjust="spacingAndGlyphs">8000</text>
<line x1="337.30" y1="329.70" x2="337.30" y2="332.10" stroke="#000" stroke-width="1.4"/>
<line x1="359.37" y1="329.70" x2="359.37" y2="332.10" stroke="#000" stroke-width="1.4"/>
<line x1="381.44" y1="329.70" x2="381.44" y2="332.10" stroke="#000" stroke-width="1.4"/>
<line x1="403.51" y1="329.70" x2="403.51" y2="332.10" stroke="#000" stroke-width="1.4"/>
<line x1="425.58" y1="329.70" x2="425.58" y2="332.10" stroke="#000" stroke-width="1.4"/>
<line x1="447.65" y1="329.70" x2="447.65" y2="332.10" stroke="#000" stroke-width="1.4"/>
<line x1="469.72" y1="329.70" x2="469.72" y2="332.10" stroke="#000" stroke-width="1.4"/>
<line x1="491.79" y1="329.70" x2="491.79" y2="332.10" stroke="#000" stroke-width="1.4"/>
<text x="345.52" y="341.70" font-size="9.5" fill="#000" textLength="5.18" lengthAdjust="spacingAndGlyphs">0</text>
<text x="367.54" y="341.70" font-size="9.5" fill="#000" textLength="5.18" lengthAdjust="spacingAndGlyphs">4</text>
<text x="389.66" y="341.70" font-size="9.5" fill="#000" textLength="5.18" lengthAdjust="spacingAndGlyphs">7</text>
<text x="409.04" y="341.70" font-size="9.5" fill="#000" textLength="10.36" lengthAdjust="spacingAndGlyphs">10</text>
<text x="430.95" y="341.70" font-size="9.5" fill="#000" textLength="10.36" lengthAdjust="spacingAndGlyphs">14</text>
<text x="453.31" y="341.70" font-size="9.5" fill="#000" textLength="10.36" lengthAdjust="spacingAndGlyphs">20</text>
<text x="475.21" y="341.70" font-size="9.5" fill="#000" textLength="10.36" lengthAdjust="spacingAndGlyphs">24</text>
<text x="352.25" y="352.80" font-size="9.0" fill="#000" textLength="124.22" lengthAdjust="spacingAndGlyphs">Days after injection of 5-FU</text>
<g transform="translate(300.40,0) rotate(-90)">
<text x="-294.80" y="0.00" font-size="9.2" fill="#000" textLength="61.39" lengthAdjust="spacingAndGlyphs">WBC (per µL)</text>
</g>
<text x="398.69" y="190.60" font-size="10.8" fill="#000" textLength="55.32" lengthAdjust="spacingAndGlyphs">Total WBC</text>
<line x1="344.20" y1="200.10" x2="364.20" y2="200.10" stroke="#0c0c0c" stroke-width="2.2"/>
<polygon points="354.60,197.60 357.10,200.10 354.60,202.60 352.10,200.10" fill="#0c0c0c"/>
<text x="364.73" y="203.20" font-size="9.2" fill="#000" textLength="17.11" lengthAdjust="spacingAndGlyphs">5FU</text>
<line x1="344.20" y1="211.70" x2="364.20" y2="211.70" stroke="#e01820" stroke-width="2.2"/>
<rect x="351.70" y="208.80" width="5.8" height="5.8" fill="#e01820"/>
<text x="364.73" y="214.80" font-size="9.2" fill="#000" textLength="59.23" lengthAdjust="spacingAndGlyphs">5-FU+AdAng1</text>
<path d="M348.10 228.00V234.00M345.60 228.00H350.60M345.60 234.00H350.60" stroke="#3a3a3a" stroke-width="1" fill="none"/>
<path d="M370.17 248.00V256.00M367.67 248.00H372.67M367.67 256.00H372.67" stroke="#3a3a3a" stroke-width="1" fill="none"/>
<path d="M414.31 277.10V281.10M411.81 277.10H416.81M411.81 281.10H416.81" stroke="#3a3a3a" stroke-width="1" fill="none"/>
<path d="M436.38 257.40V265.40M433.88 257.40H438.88M433.88 265.40H438.88" stroke="#3a3a3a" stroke-width="1" fill="none"/>
<path d="M458.45 249.70V257.70M455.95 249.70H460.95M455.95 257.70H460.95" stroke="#3a3a3a" stroke-width="1" fill="none"/>
<path d="M480.52 231.00V241.00M478.02 231.00H483.02M478.02 241.00H483.02" stroke="#3a3a3a" stroke-width="1" fill="none"/>
<polyline points="348.10,231.00 370.17,252.00 392.24,312.00 414.31,279.10 436.38,261.40 458.45,253.70 480.52,236.00" fill="none" stroke="#0c0c0c" stroke-width="2.6" stroke-linejoin="round"/>
<polygon points="348.10,227.75 351.35,231.00 348.10,234.25 344.85,231.00" fill="#0c0c0c"/>
<polygon points="370.17,248.75 373.42,252.00 370.17,255.25 366.92,252.00" fill="#0c0c0c"/>
<polygon points="392.24,308.75 395.49,312.00 392.24,315.25 388.99,312.00" fill="#0c0c0c"/>
<polygon points="414.31,275.85 417.56,279.10 414.31,282.35 411.06,279.10" fill="#0c0c0c"/>
<polygon points="436.38,258.15 439.63,261.40 436.38,264.65 433.13,261.40" fill="#0c0c0c"/>
<polygon points="458.45,250.45 461.70,253.70 458.45,256.95 455.20,253.70" fill="#0c0c0c"/>
<polygon points="480.52,232.75 483.77,236.00 480.52,239.25 477.27,236.00" fill="#0c0c0c"/>
<path d="M348.10 221.70V234.90M345.60 221.70H350.60M345.60 234.90H350.60" stroke="#3a3a3a" stroke-width="1" fill="none"/>
<path d="M436.38 220.50V233.90M433.88 220.50H438.88M433.88 233.90H438.88" stroke="#3a3a3a" stroke-width="1" fill="none"/>
<path d="M458.45 215.60V230.40M455.95 215.60H460.95M455.95 230.40H460.95" stroke="#3a3a3a" stroke-width="1" fill="none"/>
<path d="M480.52 219.90V231.90M478.02 219.90H483.02M478.02 231.90H483.02" stroke="#3a3a3a" stroke-width="1" fill="none"/>
<polyline points="348.10,228.30 370.17,288.90 392.24,312.00 414.31,303.20 436.38,227.20 458.45,223.00 480.52,225.90" fill="none" stroke="#e01820" stroke-width="2.4" stroke-linejoin="round"/>
<rect x="345.10" y="225.30" width="6" height="6" fill="#e01820"/>
<rect x="367.17" y="285.90" width="6" height="6" fill="#e01820"/>
<rect x="389.24" y="309.00" width="6" height="6" fill="#e01820"/>
<rect x="411.31" y="300.20" width="6" height="6" fill="#e01820"/>
<rect x="433.38" y="224.20" width="6" height="6" fill="#e01820"/>
<rect x="455.45" y="220.00" width="6" height="6" fill="#e01820"/>
<rect x="477.52" y="222.90" width="6" height="6" fill="#e01820"/>
<line x1="338.00" y1="382.60" x2="338.00" y2="514.20" stroke="#000" stroke-width="1.8"/>
<line x1="337.10" y1="512.00" x2="518.30" y2="512.00" stroke="#000" stroke-width="1.8"/>
<line x1="335.20" y1="512.00" x2="338.00" y2="512.00" stroke="#000" stroke-width="1.4"/>
<text x="329.16" y="514.90" font-size="9.8" fill="#000" textLength="5.01" lengthAdjust="spacingAndGlyphs">0</text>
<line x1="335.20" y1="499.18" x2="338.00" y2="499.18" stroke="#000" stroke-width="1.4"/>
<text x="319.13" y="502.08" font-size="9.8" fill="#000" textLength="15.04" lengthAdjust="spacingAndGlyphs">200</text>
<line x1="335.20" y1="486.36" x2="338.00" y2="486.36" stroke="#000" stroke-width="1.4"/>
<text x="319.13" y="489.26" font-size="9.8" fill="#000" textLength="15.04" lengthAdjust="spacingAndGlyphs">400</text>
<line x1="335.20" y1="473.54" x2="338.00" y2="473.54" stroke="#000" stroke-width="1.4"/>
<text x="319.13" y="476.44" font-size="9.8" fill="#000" textLength="15.04" lengthAdjust="spacingAndGlyphs">600</text>
<line x1="335.20" y1="460.72" x2="338.00" y2="460.72" stroke="#000" stroke-width="1.4"/>
<text x="319.13" y="463.62" font-size="9.8" fill="#000" textLength="15.04" lengthAdjust="spacingAndGlyphs">800</text>
<line x1="335.20" y1="447.90" x2="338.00" y2="447.90" stroke="#000" stroke-width="1.4"/>
<text x="314.12" y="450.80" font-size="9.8" fill="#000" textLength="20.06" lengthAdjust="spacingAndGlyphs">1000</text>
<line x1="335.20" y1="435.08" x2="338.00" y2="435.08" stroke="#000" stroke-width="1.4"/>
<text x="314.12" y="437.98" font-size="9.8" fill="#000" textLength="20.06" lengthAdjust="spacingAndGlyphs">1200</text>
<line x1="335.20" y1="422.26" x2="338.00" y2="422.26" stroke="#000" stroke-width="1.4"/>
<text x="314.12" y="425.16" font-size="9.8" fill="#000" textLength="20.06" lengthAdjust="spacingAndGlyphs">1400</text>
<line x1="335.20" y1="409.44" x2="338.00" y2="409.44" stroke="#000" stroke-width="1.4"/>
<text x="314.12" y="412.34" font-size="9.8" fill="#000" textLength="20.06" lengthAdjust="spacingAndGlyphs">1600</text>
<line x1="335.20" y1="396.62" x2="338.00" y2="396.62" stroke="#000" stroke-width="1.4"/>
<text x="314.12" y="399.52" font-size="9.8" fill="#000" textLength="20.06" lengthAdjust="spacingAndGlyphs">1800</text>
<line x1="335.20" y1="383.80" x2="338.00" y2="383.80" stroke="#000" stroke-width="1.4"/>
<text x="314.12" y="386.70" font-size="9.8" fill="#000" textLength="20.06" lengthAdjust="spacingAndGlyphs">2000</text>
<line x1="338.10" y1="512.00" x2="338.10" y2="514.60" stroke="#000" stroke-width="1.4"/>
<line x1="363.85" y1="512.00" x2="363.85" y2="514.60" stroke="#000" stroke-width="1.4"/>
<line x1="389.60" y1="512.00" x2="389.60" y2="514.60" stroke="#000" stroke-width="1.4"/>
<line x1="415.35" y1="512.00" x2="415.35" y2="514.60" stroke="#000" stroke-width="1.4"/>
<line x1="441.10" y1="512.00" x2="441.10" y2="514.60" stroke="#000" stroke-width="1.4"/>
<line x1="466.85" y1="512.00" x2="466.85" y2="514.60" stroke="#000" stroke-width="1.4"/>
<line x1="492.60" y1="512.00" x2="492.60" y2="514.60" stroke="#000" stroke-width="1.4"/>
<line x1="518.35" y1="512.00" x2="518.35" y2="514.60" stroke="#000" stroke-width="1.4"/>
<text x="348.27" y="523.90" font-size="9.2" fill="#000" textLength="5.27" lengthAdjust="spacingAndGlyphs">0</text>
<text x="373.97" y="523.90" font-size="9.2" fill="#000" textLength="5.27" lengthAdjust="spacingAndGlyphs">4</text>
<text x="399.77" y="523.90" font-size="9.2" fill="#000" textLength="5.27" lengthAdjust="spacingAndGlyphs">7</text>
<text x="422.78" y="523.90" font-size="9.2" fill="#000" textLength="10.54" lengthAdjust="spacingAndGlyphs">10</text>
<text x="448.37" y="523.90" font-size="9.2" fill="#000" textLength="10.54" lengthAdjust="spacingAndGlyphs">14</text>
<text x="474.41" y="523.90" font-size="9.2" fill="#000" textLength="10.54" lengthAdjust="spacingAndGlyphs">20</text>
<text x="500.00" y="523.90" font-size="9.2" fill="#000" textLength="10.54" lengthAdjust="spacingAndGlyphs">24</text>
<text x="365.86" y="536.80" font-size="8.8" fill="#000" textLength="123.51" lengthAdjust="spacingAndGlyphs">Days after Injection of 5-FU</text>
<g transform="translate(302.30,0) rotate(-90)">
<text x="-491.35" y="0.00" font-size="9.2" fill="#000" textLength="92.25" lengthAdjust="spacingAndGlyphs">Neutrophils (per µL)</text>
</g>
<text x="396.14" y="371.50" font-size="10.6" fill="#000" textLength="62.21" lengthAdjust="spacingAndGlyphs">Neutrophils</text>
<line x1="343.80" y1="388.70" x2="364.40" y2="388.70" stroke="#0c0c0c" stroke-width="2.4"/>
<circle cx="354.40" cy="388.70" r="2.15" fill="#999" stroke="#0c0c0c" stroke-width="1.2"/>
<text x="365.12" y="391.90" font-size="8.6" fill="#000" textLength="20.63" lengthAdjust="spacingAndGlyphs">5-FU</text>
<line x1="343.80" y1="399.30" x2="364.40" y2="399.30" stroke="#e01820" stroke-width="2.4"/>
<rect x="352.25" y="397.15" width="4.30" height="4.30" fill="#fbe0e0" stroke="#e01820" stroke-width="1.2"/>
<text x="365.13" y="402.50" font-size="8.6" fill="#000" textLength="58.83" lengthAdjust="spacingAndGlyphs">5-FU+AdAng1</text>
<path d="M350.90 469.70V473.70M348.40 469.70H353.40M348.40 473.70H353.40" stroke="#3a3a3a" stroke-width="1" fill="none"/>
<path d="M376.65 448.00V456.40M374.15 448.00H379.15M374.15 456.40H379.15" stroke="#3a3a3a" stroke-width="1" fill="none"/>
<path d="M428.15 504.20V506.20M425.65 504.20H430.65M425.65 506.20H430.65" stroke="#3a3a3a" stroke-width="1" fill="none"/>
<path d="M453.90 485.30V487.30M451.40 485.30H456.40M451.40 487.30H456.40" stroke="#3a3a3a" stroke-width="1" fill="none"/>
<path d="M479.65 456.90V464.90M477.15 456.90H482.15M477.15 464.90H482.15" stroke="#3a3a3a" stroke-width="1" fill="none"/>
<path d="M505.40 421.20V433.20M502.90 421.20H507.90M502.90 433.20H507.90" stroke="#3a3a3a" stroke-width="1" fill="none"/>
<polyline points="350.90,471.70 376.65,452.20 402.40,508.30 428.15,505.20 453.90,486.30 479.65,460.90 505.40,427.20" fill="none" stroke="#0c0c0c" stroke-width="2.5" stroke-linejoin="round"/>
<circle cx="350.90" cy="471.70" r="2.15" fill="#999" stroke="#0c0c0c" stroke-width="1.2"/>
<circle cx="376.65" cy="452.20" r="2.15" fill="#999" stroke="#0c0c0c" stroke-width="1.2"/>
<circle cx="402.40" cy="508.30" r="2.15" fill="#999" stroke="#0c0c0c" stroke-width="1.2"/>
<circle cx="428.15" cy="505.20" r="2.15" fill="#999" stroke="#0c0c0c" stroke-width="1.2"/>
<circle cx="453.90" cy="486.30" r="2.15" fill="#999" stroke="#0c0c0c" stroke-width="1.2"/>
<circle cx="479.65" cy="460.90" r="2.15" fill="#999" stroke="#0c0c0c" stroke-width="1.2"/>
<circle cx="505.40" cy="427.20" r="2.15" fill="#999" stroke="#0c0c0c" stroke-width="1.2"/>
<path d="M350.90 470.60V474.60M348.40 470.60H353.40M348.40 474.60H353.40" stroke="#3a3a3a" stroke-width="1" fill="none"/>
<path d="M376.65 474.10V476.10M374.15 474.10H379.15M374.15 476.10H379.15" stroke="#3a3a3a" stroke-width="1" fill="none"/>
<path d="M453.90 457.40V463.40M451.40 457.40H456.40M451.40 463.40H456.40" stroke="#3a3a3a" stroke-width="1" fill="none"/>
<path d="M479.65 393.60V409.00M477.15 393.60H482.15M477.15 409.00H482.15" stroke="#3a3a3a" stroke-width="1" fill="none"/>
<path d="M505.40 413.40V425.40M502.90 413.40H507.90M502.90 425.40H507.90" stroke="#3a3a3a" stroke-width="1" fill="none"/>
<polyline points="350.90,472.60 376.65,475.10 402.40,508.30 428.15,507.80 453.90,460.40 479.65,401.30 505.40,419.40" fill="none" stroke="#e01820" stroke-width="2.1" stroke-linejoin="round"/>
<rect x="348.40" y="470.10" width="5.00" height="5.00" fill="#fdf0f0" stroke="#e54848" stroke-width="1.2"/>
<rect x="374.15" y="472.60" width="5.00" height="5.00" fill="#fdf0f0" stroke="#e54848" stroke-width="1.2"/>
<rect x="399.90" y="505.80" width="5.00" height="5.00" fill="#fdf0f0" stroke="#e54848" stroke-width="1.2"/>
<rect x="425.65" y="505.30" width="5.00" height="5.00" fill="#fdf0f0" stroke="#e54848" stroke-width="1.2"/>
<rect x="451.40" y="457.90" width="5.00" height="5.00" fill="#fdf0f0" stroke="#e54848" stroke-width="1.2"/>
<rect x="477.15" y="398.80" width="5.00" height="5.00" fill="#fdf0f0" stroke="#e54848" stroke-width="1.2"/>
<rect x="502.90" y="416.90" width="5.00" height="5.00" fill="#fdf0f0" stroke="#e54848" stroke-width="1.2"/>
</svg>
</body></html>
